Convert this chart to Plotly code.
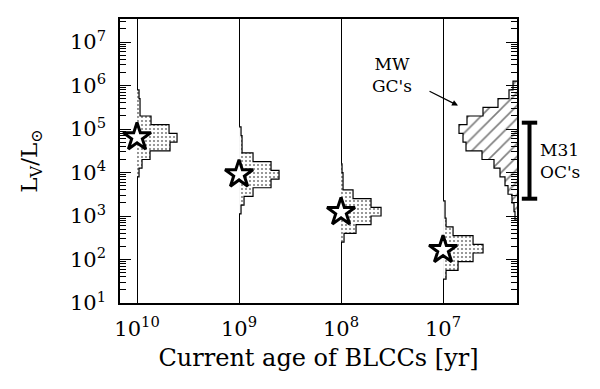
import math
import plotly.graph_objects as go

# ---------------- data ----------------
AGES = [1e10, 1e9, 1e8, 1e7]                       # yr, cluster ages
AGE_LABELS = ["10<sup>10</sup>", "10<sup>9</sup>", "10<sup>8</sup>", "10<sup>7</sup>"]
STAR_LV = [6.5e4, 9.1e3, 1.23e3, 1.66e2]           # L_V/L_sun of the marked BLCC at each age

BIN = 0.2  # dex, histogram bin width in log L_V

# histogram: lower bin edges (log L_V) and counts, one pair per age
HIST_1E10_LO = [3.9, 4.1, 4.3, 4.5, 4.7, 4.9, 5.1, 5.3, 5.5, 5.7]
HIST_1E10_N = [2, 5, 13, 33, 40, 32, 14, 3, 3, 2]
HIST_1E9_LO = [3.05, 3.25, 3.45, 3.65, 3.85, 4.05, 4.25, 4.45, 4.65, 4.85]
HIST_1E9_N = [2, 5, 14, 32, 40, 32, 14, 3, 3, 2]
HIST_1E8_LO = [2.4, 2.6, 2.8, 3.0, 3.2, 3.4, 3.6, 3.8, 4.0]
HIST_1E8_N = [3, 15, 30, 40, 30, 12, 2, 2, 1]
HIST_1E7_LO = [1.55, 1.75, 1.95, 2.15, 2.35, 2.55, 2.75, 2.95, 3.15]
HIST_1E7_N = [3, 15, 30, 40, 30, 10, 3, 2, 2]

# Milky Way globular clusters
MW_GC_LO = [2.9, 3.1, 3.3, 3.5, 3.7, 3.9, 4.1, 4.3, 4.5, 4.7, 4.9, 5.1, 5.3, 5.5, 5.7, 5.9]
MW_GC_N = [2, 3, 5, 9, 12, 17, 23, 35, 51, 54, 58, 50, 34, 19, 8, 4]

# M31 open clusters luminosity range
M31_OC_LV = [2.5e3, 1.4e5]

Y_TICKS = [1e1, 1e2, 1e3, 1e4, 1e5, 1e6, 1e7]
Y_LABELS = ["10<sup>%d</sup>" % k for k in range(1, 8)]

# ---------------- styling constants ----------------
X_RANGE_LOG = [10.167, 6.275]
Y_RANGE_LOG = [1.0, 7.53]
COUNT_TO_DEX = 1 / 102.0   # horizontal size of one count, in decades of age


def hist_path(base_log, lo_edges, counts, direction):
    xs = [10 ** base_log]
    ys = [10 ** lo_edges[0]]
    for e, n in zip(lo_edges, counts):
        xl = 10 ** (base_log + direction * n * COUNT_TO_DEX)
        xs += [xl, xl]
        ys += [10 ** e, 10 ** (e + BIN)]
    xs.append(10 ** base_log)
    ys.append(10 ** (lo_edges[-1] + BIN))
    return xs, ys


fig = go.Figure()

stipple = dict(shape=".", fgcolor="black", bgcolor="white", size=4, solidity=0.22)
hists = [(HIST_1E10_LO, HIST_1E10_N), (HIST_1E9_LO, HIST_1E9_N),
         (HIST_1E8_LO, HIST_1E8_N), (HIST_1E7_LO, HIST_1E7_N)]
for age, (lo, n) in zip(AGES, hists):
    xs, ys = hist_path(math.log10(age), lo, n, -1)
    fig.add_trace(go.Scatter(x=xs, y=ys, mode="lines", fill="toself",
                             fillcolor="white", fillpattern=stipple,
                             line=dict(color="black", width=1.2), hoverinfo="skip"))

# MW GC histogram attached to the right frame
xs, ys = hist_path(X_RANGE_LOG[1], MW_GC_LO, MW_GC_N, +1)
fig.add_trace(go.Scatter(x=xs, y=ys, mode="lines", fill="toself", fillcolor="white",
                         fillpattern=dict(shape="/", fgcolor="black", bgcolor="white",
                                          size=9, solidity=0.18),
                         line=dict(color="black", width=1.2), hoverinfo="skip"))

# stars
fig.add_trace(go.Scatter(x=AGES, y=STAR_LV, mode="markers",
                         marker=dict(symbol="star", size=21, color="white",
                                     line=dict(color="black", width=3))))

# M31 OC range bar (outside the frame)
fig.add_trace(go.Scatter(x=[12.5, 12.5], y=M31_OC_LV, mode="lines+markers",
                         xaxis="x3", yaxis="y",
                         line=dict(color="black", width=4),
                         marker=dict(symbol="line-ew", size=11,
                                     line=dict(color="black", width=4))))

dom = 397 / 480
fig.update_layout(
    width=592, height=381,
    margin=dict(l=112, r=0, t=11, b=86),
    plot_bgcolor="white", paper_bgcolor="white",
    showlegend=False,
    font=dict(family="DejaVu Serif", color="black", size=20),
    xaxis=dict(type="log", range=X_RANGE_LOG, domain=[0, dom],
               tickmode="array", tickvals=AGES, ticktext=AGE_LABELS,
               ticks="", showgrid=True, gridcolor="black", gridwidth=1,
               showline=True, linecolor="black", linewidth=1.5, mirror=True,
               zeroline=False, tickfont=dict(size=21), ticklabelstandoff=6,
               title=dict(text="Current age of BLCCs [yr]", font=dict(size=24), standoff=9)),
    yaxis=dict(type="log", range=Y_RANGE_LOG,
               tickmode="array", tickvals=Y_TICKS, ticktext=Y_LABELS,
               ticks="inside", ticklen=11, tickwidth=1, tickcolor="black",
               minor=dict(ticks="inside", ticklen=6, tickwidth=1, tickcolor="black",
                          tickvals=[m * 10 ** k for k in range(1, 8) for m in range(2, 10)],
                          showgrid=False),
               showgrid=False, showline=True, linecolor="black", linewidth=1.5,
               mirror="ticks", zeroline=False, tickfont=dict(size=21), ticklabelstandoff=8,
               title=dict(text="L<sub>V</sub>/L<sub>⊙</sub>", font=dict(size=23), standoff=26)),
    xaxis3=dict(domain=[dom, 1], range=[0, 83], visible=False, anchor="y",
                showgrid=False, zeroline=False),
    annotations=[
        dict(x=7.5, y=6.25, xref="x", yref="y", text="MW<br>GC's", showarrow=False,
             font=dict(size=17)),
        dict(x=6.853, y=5.54, xref="x", yref="y", text="", showarrow=True,
             ax=-30, ay=-15, arrowhead=2, arrowwidth=1.2, arrowcolor="black"),
        dict(x=21, y=4.27, xref="x3", yref="y", text="M31<br>OC's", showarrow=False,
             xanchor="left", align="left", font=dict(size=17)),
    ],
)

fig.write_html("out.html")
